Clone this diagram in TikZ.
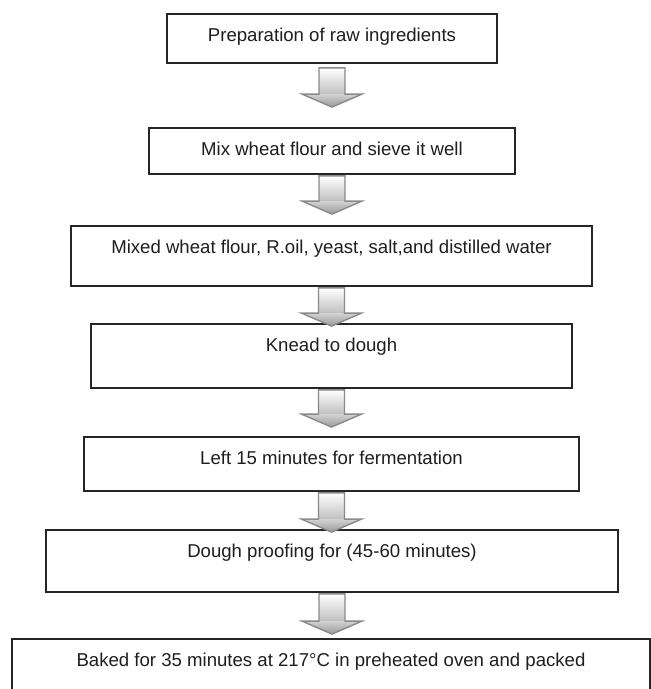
\documentclass[tikz,border=0pt]{standalone}
\usepackage{fontspec}
\setmainfont{Liberation Sans}
\usetikzlibrary{calc}
\definecolor{boxline}{HTML}{262626}
\definecolor{txtcol}{HTML}{1E1E1E}
\definecolor{arrline}{HTML}{8A8A8A}
\tikzset{
  stepbox/.style={draw=boxline, line width=1.8pt, fill=white, inner sep=0pt, rectangle},
  steptext/.style={text=txtcol, font=\fontsize{18.6}{22}\selectfont, inner sep=0pt, anchor=base},
}
\newcommand\fatarr[2]{%
  \shade[top color=white,bottom color=gray!50] let \p1=(#1),\p2=(#2) in (\x1-13pt,\y1) rectangle (\x1+13pt,\y2+13pt);
  \shade[top color=gray!35,bottom color=gray!80] let \p1=(#1),\p2=(#2) in (\x1-30pt,\y2+13pt) -- (\x1+30pt,\y2+13pt) -- (\x1,\y2) -- cycle;
  \draw[draw=arrline,line width=1.4pt,line join=miter] let \p1=(#1),\p2=(#2) in (\x1-13pt,\y1) -- (\x1+13pt,\y1) -- (\x1+13pt,\y2+13pt) -- (\x1+30pt,\y2+13pt) -- (\x1,\y2) -- (\x1-30pt,\y2+13pt) -- (\x1-13pt,\y2+13pt) -- cycle;
}
\begin{document}
\begin{tikzpicture}[x=1pt,y=-1pt]
\useasboundingbox (0,0) rectangle (651,689);
\fill[white] (0,0) rectangle (651,689);
% boxes
\node[stepbox, minimum width=330pt, minimum height=49pt] (b1) at (332,38.5) {};
\node[stepbox, minimum width=366pt, minimum height=46pt] (b2) at (332,151) {};
\node[stepbox, minimum width=521pt, minimum height=60pt] (b3) at (331.5,256) {};
\node[stepbox, minimum width=481pt, minimum height=64pt] (b4) at (331.5,356) {};
\node[stepbox, minimum width=495pt, minimum height=54pt] (b5) at (331.5,464) {};
\node[stepbox, minimum width=572pt, minimum height=62pt] (b6) at (332,561) {};
\node[stepbox, minimum width=638pt, minimum height=58pt] (b7) at (331,668) {};
% texts
\node[steptext] (t1) at ($(b1.north)+(0,28.5)$) {Preparation of raw ingredients};
\node[steptext] (t2) at ($(b2.north)+(0,28.5)$) {Mix wheat flour and sieve it well};
\node[steptext] (t3) at ($(b3.north)+(0,28.5)$) {Mixed wheat flour, R.oil, yeast, salt,and distilled water};
\node[steptext] (t4) at ($(b4.north)+(0,28.5)$) {Knead to dough};
\node[steptext] (t5) at ($(b5.north)+(0,28.5)$) {Left 15 minutes for fermentation};
\node[steptext] (t6) at ($(b6.north)+(0,28.5)$) {Dough proofing for (45-60 minutes)};
\node[steptext] (t7) at ($(b7.north)+(0,28.5)$) {Baked for 35 minutes at 217°C in preheated oven and packed};
% arrow end points
\coordinate (a1s) at ($(b1.south)+(0,4)$);
\coordinate (a1e) at ($(b2.north)+(0,-20)$);
\coordinate (a2s) at ($(b2.south)+(0,1)$);
\coordinate (a2e) at ($(b3.north)+(0,-11)$);
\coordinate (a3s) at ($(b3.south)+(0,1)$);
\coordinate (a3e) at ($(b4.north)+(0,3)$);
\coordinate (a4s) at ($(b4.south)+(0,1)$);
\coordinate (a4e) at ($(b5.north)+(0,-9)$);
\coordinate (a5s) at ($(b5.south)+(0,1)$);
\coordinate (a5e) at ($(b6.north)+(0,3)$);
\coordinate (a6s) at ($(b6.south)+(0,1)$);
\coordinate (a6e) at ($(b7.north)+(0,-4)$);
\fatarr{a1s}{a1e}
\fatarr{a2s}{a2e}
\fatarr{a3s}{a3e}
\fatarr{a4s}{a4e}
\fatarr{a5s}{a5e}
\fatarr{a6s}{a6e}
\end{tikzpicture}
\end{document}
